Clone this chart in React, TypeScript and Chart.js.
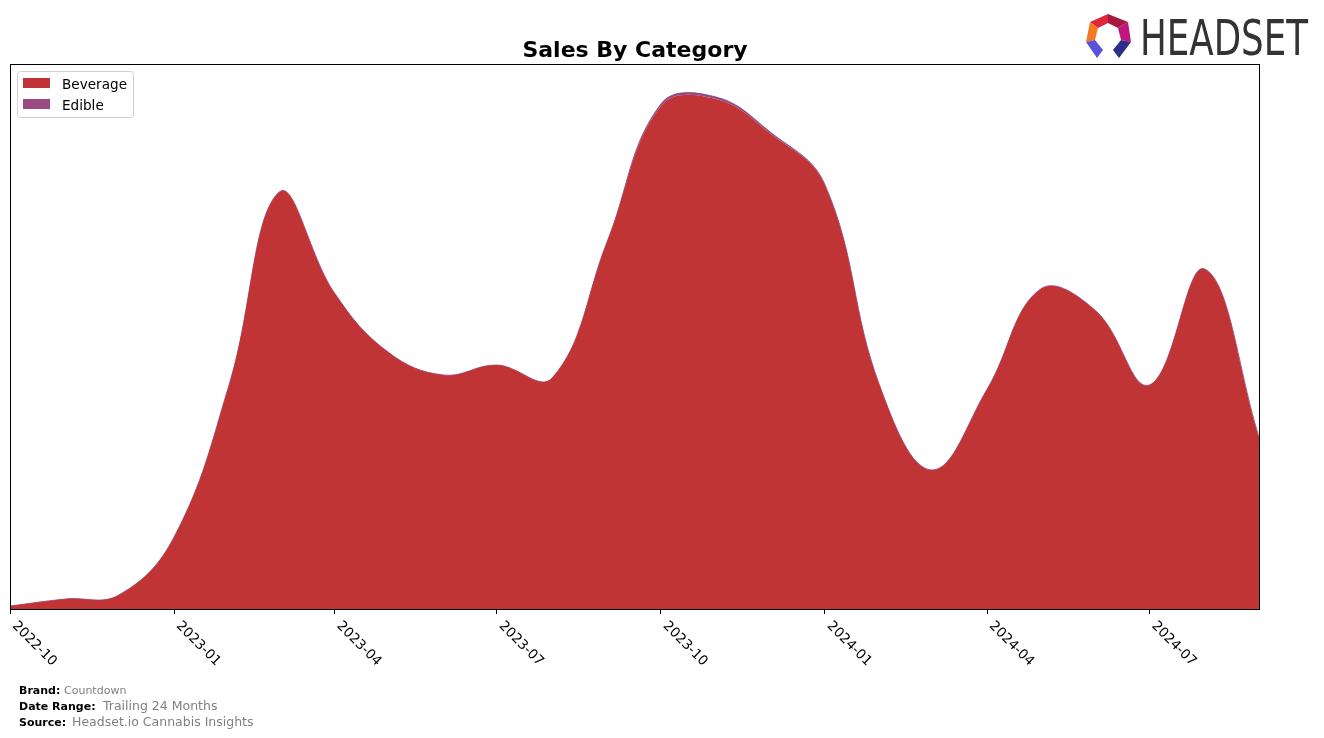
import React, { useEffect, useRef } from "react";
import { Chart, registerables } from "chart.js";

Chart.register(...registerables);

const months = [
  "2022-10", "2022-11", "2022-12", "2023-01", "2023-02", "2023-03",
  "2023-04", "2023-05", "2023-06", "2023-07", "2023-08", "2023-09",
  "2023-10", "2023-11", "2023-12", "2024-01", "2024-02", "2024-03",
  "2024-04", "2024-05", "2024-06", "2024-07", "2024-08", "2024-09",
];
const beverage = [
  3, 10, 14, 72, 225, 417, 316, 257, 234, 244, 231, 368,
  503, 510, 476, 424, 222, 139, 220, 320, 298, 224, 340, 169,
];
const edible = [
  0, 0, 0, 0, 0, 0, 0, 0, 0, 0, 0, 0,
  2, 2, 1.5, 0.5, 0, 0, 0, 0, 0, 0, 0, 0,
];
const tickLabels = ["2022-10", "2023-01", "2023-04", "2023-07", "2023-10", "2024-01", "2024-04", "2024-07"];

const BEV = "#c13436";
const EDI = "#9b4a82";

const dayOf = (m: string) => {
  const [y, mo] = m.split("-").map(Number);
  const base = Date.UTC(2022, 9, 1);
  return Math.round((Date.UTC(y, mo - 1, 1) - base) / 86400000);
};
const xs = months.map(dayOf);
const tickDays = tickLabels.map(dayOf);

const decorPlugin = {
  id: "decor",
  afterDraw(chart: any) {
    const ctx = chart.ctx as CanvasRenderingContext2D;
    const a = chart.chartArea;
    const xScale = chart.scales.x;
    ctx.save();
    // frame
    ctx.strokeStyle = "#000";
    ctx.lineWidth = 1;
    ctx.strokeRect(a.left + 0.5, a.top + 0.5, a.right - a.left - 1, a.bottom - a.top);

    // title
    ctx.fillStyle = "#000";
    ctx.font = "bold 22px 'DejaVu Sans'";
    ctx.textAlign = "center";
    ctx.textBaseline = "alphabetic";
    ctx.fillText("Sales By Category", (a.left + a.right) / 2, 57);

    // legend
    ctx.beginPath();
    (ctx as any).roundRect(17.5, 71.5, 116, 46, 3);
    ctx.fillStyle = "rgba(255,255,255,0.8)";
    ctx.fill();
    ctx.strokeStyle = "#d0d0d0";
    ctx.stroke();
    ctx.fillStyle = BEV;
    ctx.fillRect(23, 78, 27, 10);
    ctx.fillStyle = EDI;
    ctx.fillRect(23, 99, 27, 10);
    ctx.fillStyle = "#000";
    ctx.font = "13.6px 'DejaVu Sans'";
    ctx.textAlign = "left";
    ctx.fillText("Beverage", 62, 89);
    ctx.fillText("Edible", 62, 110);

    // x tick labels (rotated)
    ctx.font = "13.6px 'DejaVu Sans'";
    ctx.textBaseline = "top";
    tickLabels.forEach((lab, i) => {
      const px = xScale.getPixelForValue(tickDays[i]);
      ctx.save();
      ctx.translate(px + 9, 619);
      ctx.rotate(Math.PI / 4);
      ctx.fillStyle = "#000";
      ctx.fillText(lab, 0, 0);
      ctx.restore();
    });

    // footer
    ctx.textBaseline = "alphabetic";
    const footer: [string, string, number, number, number][] = [
      ["Brand:", "Countdown", 694, 64, 11],
      ["Date Range:", "Trailing 24 Months", 710, 103, 12.5],
      ["Source:", "Headset.io Cannabis Insights", 726, 72, 12.5],
    ];
    footer.forEach(([k, v, y, vx, vs]) => {
      ctx.fillStyle = "#000";
      ctx.font = "bold 11px 'DejaVu Sans'";
      ctx.fillText(k, 19, y);
      ctx.fillStyle = "#808080";
      ctx.font = `${vs}px 'DejaVu Sans'`;
      ctx.fillText(v, vx, y);
    });

    // logo icon
    const poly = (pts: number[][], col: string) => {
      ctx.beginPath();
      ctx.moveTo(pts[0][0], pts[0][1]);
      for (let i = 1; i < pts.length; i++) ctx.lineTo(pts[i][0], pts[i][1]);
      ctx.closePath();
      ctx.fillStyle = col;
      ctx.fill();
    };
    poly([[1108, 14], [1090, 22], [1098, 28], [1108, 23]], "#e0263c");
    poly([[1108, 14], [1128, 22], [1118, 28], [1108, 23]], "#a8183e");
    poly([[1128, 22], [1131, 42], [1121, 40], [1118, 28]], "#c0177e");
    poly([[1090, 22], [1086, 42], [1095, 40], [1098, 28]], "#f47a22");
    poly([[1086, 42], [1095, 40], [1103, 50], [1097, 58]], "#5a52d8");
    poly([[1131, 42], [1121, 40], [1113, 50], [1119, 58]], "#2b2f8a");

    // logo text
    ctx.fillStyle = "#333333";
    ctx.font = "49px 'DejaVu Sans Condensed', 'DejaVu Sans'";
    ctx.textAlign = "left";
    const w = ctx.measureText("HEADSET").width;
    ctx.save();
    ctx.translate(1140, 55);
    ctx.scale(168 / w, 1);
    ctx.fillText("HEADSET", 0, 0);
    ctx.restore();

    ctx.restore();
  },
};

export default function App() {
  const ref = useRef<HTMLCanvasElement | null>(null);
  useEffect(() => {
    if (!ref.current) return;
    const chart = new Chart(ref.current, {
      type: "line",
      data: {
        datasets: [
          {
            label: "Beverage",
            data: xs.map((x, i) => ({ x, y: beverage[i] })),
            backgroundColor: BEV,
            borderColor: BEV,
            borderWidth: 0,
            fill: "origin",
            pointRadius: 0,
            tension: 0.4,
          },
          {
            label: "Edible",
            data: xs.map((x, i) => ({ x, y: edible[i] })),
            backgroundColor: EDI,
            borderColor: "rgba(120,70,140,0.8)",
            borderWidth: 1,
            fill: "-1",
            pointRadius: 0,
            tension: 0.4,
          },
        ],
      },
      options: {
        responsive: false,
        devicePixelRatio: 1,
        animation: false,
        layout: { padding: { left: 10, right: 64, top: 64, bottom: 124 } },
        plugins: {
          legend: { display: false },
          title: { display: false },
          tooltip: { enabled: false },
        },
        scales: {
          x: {
            type: "linear",
            min: 0,
            max: xs[xs.length - 1],
            afterBuildTicks: (axis: any) => {
              axis.ticks = tickDays.map((v) => ({ value: v }));
            },
            grid: { drawOnChartArea: false, drawTicks: true, tickLength: 5, color: "#000" },
            border: { display: false },
            ticks: { display: false },
          },
          y: { display: false, stacked: true, min: 0, max: 545 },
        },
      },
      plugins: [decorPlugin],
    });
    return () => chart.destroy();
  }, []);
  return (
    <div style={{ position: "absolute", left: 0, top: 0, width: 1324, height: 738, background: "#fff" }}>
      <canvas ref={ref} width={1324} height={738} style={{ display: "block", width: 1324, height: 738 }} />
    </div>
  );
}
